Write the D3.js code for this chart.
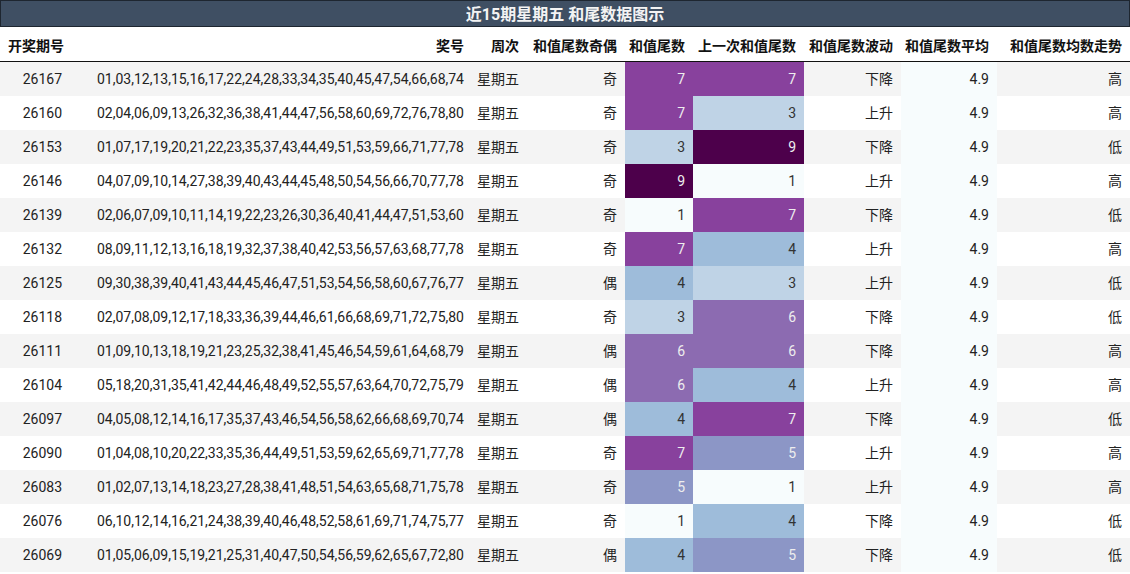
<!DOCTYPE html>
<html><head><meta charset="utf-8">
<script src="https://cdn.jsdelivr.net/npm/d3@7"></script>
<style>body{margin:0;background:#fff}</style></head>
<body><svg id="c" width="1130" height="574"></svg>
<script>
const title = "近15期星期五 和尾数据图示";
const headers = ["开奖期号","奖号","周次","和值尾数奇偶","和值尾数","上一次和值尾数","和值尾数波动","和值尾数平均","和值尾数均数走势"];
const issues = ["26167","26160","26153","26146","26139","26132","26125","26118","26111","26104","26097","26090","26083","26076","26069"];
const numbers = [
"01,03,12,13,15,16,17,22,24,28,33,34,35,40,45,47,54,66,68,74",
"02,04,06,09,13,26,32,36,38,41,44,47,56,58,60,69,72,76,78,80",
"01,07,17,19,20,21,22,23,35,37,43,44,49,51,53,59,66,71,77,78",
"04,07,09,10,14,27,38,39,40,43,44,45,48,50,54,56,66,70,77,78",
"02,06,07,09,10,11,14,19,22,23,26,30,36,40,41,44,47,51,53,60",
"08,09,11,12,13,16,18,19,32,37,38,40,42,53,56,57,63,68,77,78",
"09,30,38,39,40,41,43,44,45,46,47,51,53,54,56,58,60,67,76,77",
"02,07,08,09,12,17,18,33,36,39,44,46,61,66,68,69,71,72,75,80",
"01,09,10,13,18,19,21,23,25,32,38,41,45,46,54,59,61,64,68,79",
"05,18,20,31,35,41,42,44,46,48,49,52,55,57,63,64,70,72,75,79",
"04,05,08,12,14,16,17,35,37,43,46,54,56,58,62,66,68,69,70,74",
"01,04,08,10,20,22,33,35,36,44,49,51,53,59,62,65,69,71,77,78",
"01,02,07,13,14,18,23,27,28,38,41,48,51,54,63,65,68,71,75,78",
"06,10,12,14,16,21,24,38,39,40,46,48,52,58,61,69,71,74,75,77",
"01,05,06,09,15,19,21,25,31,40,47,50,54,56,59,62,65,67,72,80"];
const weekday = Array(15).fill("星期五");
const parity = ["奇","奇","奇","奇","奇","奇","偶","奇","偶","偶","偶","奇","奇","奇","偶"];
const tail = [7,7,3,9,1,7,4,3,6,6,4,7,5,1,4];
const prevTail = [7,3,9,1,7,4,3,6,6,4,7,5,1,4,5];
const wave = ["下降","上升","下降","上升","下降","上升","上升","下降","下降","上升","下降","上升","上升","下降","下降"];
const avg = Array(15).fill(4.9);
const trend = ["高","高","低","高","低","高","低","低","高","高","低","高","高","低","低"];

const svg = d3.select("#c");
const F = "Roboto, 'Noto Sans CJK SC', sans-serif";
const cols = [[0,70],[70,470],[470,527],[527,625],[625,693],[693,804],[804,901],[901,997],[997,1130]];
const rowY = d3.scaleBand().domain(d3.range(15)).range([62,572]);
const col = d3.scaleOrdinal(d3.schemeBuPu[9]).domain(d3.range(1,10));
const avgColor = "#f7fcfd";

svg.append("rect").attr("x",0.5).attr("y",0.5).attr("width",1129).attr("height",26).attr("fill","#3f4f63").attr("stroke","#1e2630");
svg.append("text").attr("x",565).attr("y",20).attr("text-anchor","middle").attr("fill","#f3f3f3")
  .attr("font-family",F).attr("font-weight","bold").attr("font-size",16).text(title);

headers.forEach((h,i)=>{
  const t = svg.append("text").attr("y",51).attr("font-family",F).attr("font-weight","bold").attr("font-size",14).attr("fill","#111").text(h);
  if(i===0) t.attr("x",8); else t.attr("x",cols[i][1]-(i==1?6:8)).attr("text-anchor","end");
});
svg.append("line").attr("x1",0).attr("x2",1130).attr("y1",62).attr("y2",62).attr("stroke","#111").attr("stroke-width",2);

const rows = svg.selectAll("g.r").data(d3.range(15)).join("g").attr("transform",d=>`translate(0,${rowY(d)})`);
const h = rowY.bandwidth();
rows.append("rect").attr("width",1130).attr("height",h).attr("fill",d=>d%2===0?"#f4f4f4":"#fff");
rows.append("rect").attr("x",cols[4][0]).attr("width",cols[4][1]-cols[4][0]).attr("height",h).attr("fill",d=>col(tail[d]));
rows.append("rect").attr("x",cols[5][0]).attr("width",cols[5][1]-cols[5][0]).attr("height",h).attr("fill",d=>col(prevTail[d]));
rows.append("rect").attr("x",cols[7][0]).attr("width",cols[7][1]-cols[7][0]).attr("height",h).attr("fill",avgColor);
const getters = [d=>issues[d],d=>numbers[d],d=>weekday[d],d=>parity[d],d=>tail[d],d=>prevTail[d],d=>wave[d],d=>avg[d].toFixed(1),d=>trend[d]];
getters.forEach((g,i)=>{
  rows.append("text").attr("x",cols[i][1]-(i==1?6:8)).attr("y",h/2+5).attr("text-anchor","end")
   .attr("font-family",F).attr("font-size",14)
   .attr("fill",d=>{ if(i===4||i===5){const v=i===4?tail[d]:prevTail[d]; return v>=5?"#eeeeee":"#333";} return "#222";})
   .text(g);
});
</script></body></html>
